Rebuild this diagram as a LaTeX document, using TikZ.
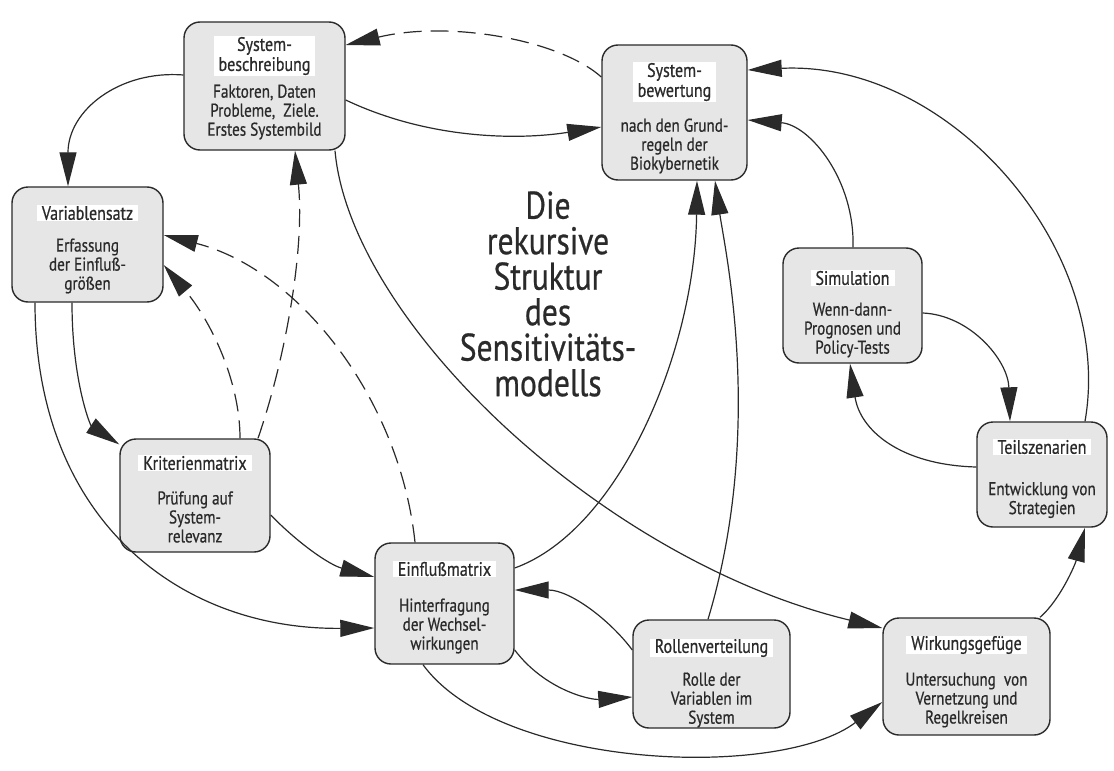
\documentclass[tikz,border=0pt]{standalone}
\usepackage{fontspec}
\setmainfont{PT Sans}[FakeStretch=0.82,FakeBold=0.6]
\usetikzlibrary{arrows.meta}
\definecolor{ink}{HTML}{2A2A2A}
\definecolor{boxfill}{HTML}{E6E6E6}
\begin{document}
\begin{tikzpicture}[x=1pt,y=-1pt,
  stage/.style={draw=ink,line width=1.4pt,fill=boxfill,rounded corners=16pt,inner sep=0pt},
  heading/.style={fill=white,inner xsep=5pt,inner ysep=0.5pt,font=\fontsize{19.5}{20}\selectfont,text=ink,align=center},
  detail/.style={inner sep=0pt,font=\fontsize{18.5}{19}\selectfont,text=ink,align=center},
  link/.style={draw=ink,line width=1.2pt,-{Triangle[length=34pt,width=17pt]}},
  hint/.style={link,dash pattern=on 18pt off 9pt}]
\useasboundingbox (0,0) rectangle (1114,771);

% stages of the model
\node[stage,minimum width=161pt,minimum height=128pt] (sb) at (264.5,86) {};
\node[heading] (sbh) at (264.5,56) {System-\\beschreibung};
\node[detail] (sbd) at (264.5,112) {Faktoren, Daten\\Probleme,\ \ Ziele.\\Erstes Systembild};

\node[stage,minimum width=145pt,minimum height=135pt] (sbw) at (674.5,112.5) {};
\node[heading] (sbwh) at (674.5,82) {System-\\bewertung};
\node[detail] (sbwd) at (674.5,146) {nach den Grund-\\regeln der\\Biokybernetik};

\node[stage,minimum width=151pt,minimum height=115pt] (v) at (87.5,244.5) {};
\node[heading] (vh) at (87.5,213) {Variablensatz};
\node[detail] (vd) at (87.5,266) {Erfassung\\der Einfluß-\\größen};

\node[stage,minimum width=150pt,minimum height=113pt] (k) at (195,495.5) {};
\node[heading] (kh) at (195,463) {Kriterienmatrix};
\node[detail] (kd) at (195,517) {Prüfung auf\\System-\\relevanz};

\node[stage,minimum width=139pt,minimum height=121pt] (e) at (444.5,603.5) {};
\node[heading] (eh) at (444.5,569) {Einflußmatrix};
\node[detail] (ed) at (444.5,626) {Hinterfragung\\der Wechsel-\\wirkungen};

\node[stage,minimum width=157pt,minimum height=108pt] (r) at (711.5,674) {};
\node[heading] (rh) at (711.5,648) {Rollenverteilung};
\node[detail] (rd) at (711.5,700) {Rolle der\\Variablen im\\System};

\node[stage,minimum width=167pt,minimum height=117pt] (w) at (966.5,676.5) {};
\node[heading] (wh) at (966.5,645) {Wirkungsgefüge};
\node[detail] (wd) at (966.5,700) {Untersuchung\ \ von\\Vernetzung und\\Regelkreisen};

\node[stage,minimum width=139pt,minimum height=115pt] (sim) at (852.5,305.5) {};
\node[heading] (simh) at (852.5,278) {Simulation};
\node[detail] (simd) at (852.5,330) {Wenn-dann-\\Prognosen und\\Policy-Tests};

\node[stage,minimum width=130pt,minimum height=105pt] (t) at (1042,474.5) {};
\node[heading] (th) at (1042,447) {Teilszenarien};
\node[detail] (td) at (1042,500) {Entwicklung von\\Strategien};

% central title
\node[inner sep=0pt,align=center,text=ink,font=\fontsize{38.5}{35.5}\selectfont] (title) at (548,294)
  {Die\\rekursive\\Struktur\\des\\Sensitivitäts-\\modells};

% solid connectors
\draw[link] (0,100 -| sb.east) .. controls (430,140) and (520,140) .. (0,127 -| sbw.west);
\draw[link] (0,75 -| sb.west) .. controls (120,70) and (68,110) .. (68,0 |- v.north);
\draw[link] (72,0 |- v.south) .. controls (72,380) and (90,425) .. (k.146);
\draw[link] (35,0 |- v.south) .. controls (35,520) and (180,630) .. (0,628 -| e.west);
\draw[link] (0,515 -| k.east) .. controls (300,545) and (330,565) .. (0,577 -| e.west);
\draw[link] (0,568 -| e.east) .. controls (620,530) and (695,350) .. (697,0 |- sbw.south);
\draw[link] (708,0 |- r.north) .. controls (765,430) and (725,250) .. (715,0 |- sbw.south);
\draw[link] (0,650 -| r.west) .. controls (610,620) and (570,590) .. (0,590 -| e.east);
\draw[link] (0,650 -| e.east) .. controls (545,690) and (590,700) .. (0,697 -| r.west);
\draw[link] (423,0 |- e.south) .. controls (500,770) and (780,780) .. (0,702 -| w.west);
\draw[link] (335,0 |- sb.south) .. controls (350,320) and (600,560) .. (0,628 -| w.west);
\draw[link] (1040,0 |- w.north) .. controls (1060,600) and (1075,565) .. (1085,0 |- t.south);
\draw[link] (0,467 -| t.west) .. controls (900,465) and (860,430) .. (850,0 |- sim.south);
\draw[link] (0,313 -| sim.east) .. controls (970,315) and (1008,360) .. (1010,0 |- t.north);
\draw[link] (853,0 |- sim.north) .. controls (855,180) and (810,125) .. (0,120 -| sbw.east);
\draw[link] (1085,0 |- t.north) .. controls (1115,250) and (950,60) .. (0,70 -| sbw.east);

% dashed connectors
\draw[hint] (0,77 -| sbw.west) .. controls (560,40) and (450,20) .. (0,45 -| sb.east);
\draw[hint] (240,0 |- k.north) .. controls (240,380) and (210,320) .. (0,265 -| v.east);
\draw[hint] (258,0 |- k.north) .. controls (285,360) and (305,250) .. (295,0 |- sb.south);
\draw[hint] (415,0 |- e.north) .. controls (400,400) and (300,270) .. (0,235 -| v.east);
\end{tikzpicture}
\end{document}
